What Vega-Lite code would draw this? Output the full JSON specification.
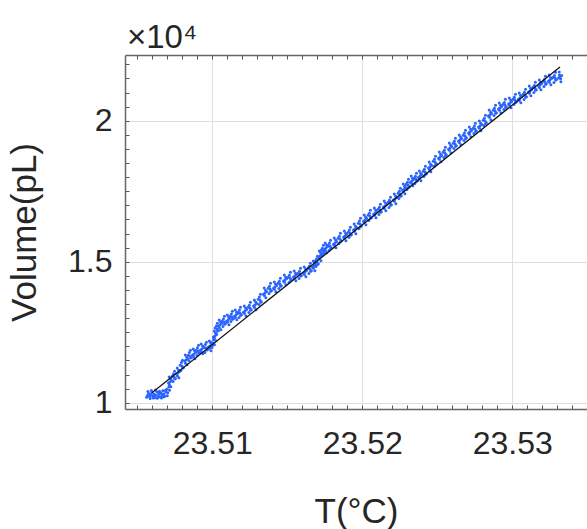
{
  "$schema": "https://vega.github.io/schema/vega-lite/v6.json",
  "autosize": "none",
  "width": 462,
  "height": 354,
  "padding": {"left": 125, "top": 55, "right": 0, "bottom": 120},
  "background": "white",
  "config": {"view": {"stroke": null}, "font": "Liberation Sans"},
  "title": {"text": "×10⁴", "anchor": "start", "frame": "group", "fontSize": 33, "fontWeight": "normal", "color": "#262626", "offset": 0, "dy": 7, "font": "Liberation Sans", "dx": 2},
  "datasets": {
    "fit": [{"T": 23.50598, "V": 10352}, {"T": 23.53318, "V": 21904}],
    "pts": [
      {"T": 23.50568, "V": 10260}, {"T": 23.50575, "V": 10330}, {"T": 23.50582, "V": 10210}, {"T": 23.5059, "V": 10290},
      {"T": 23.50597, "V": 10360}, {"T": 23.50603, "V": 10230}, {"T": 23.5061, "V": 10310}, {"T": 23.50617, "V": 10180},
      {"T": 23.50624, "V": 10270}, {"T": 23.5063, "V": 10390}, {"T": 23.50637, "V": 10220}, {"T": 23.50644, "V": 10300},
      {"T": 23.5065, "V": 10200}, {"T": 23.50657, "V": 10340}, {"T": 23.50664, "V": 10250}, {"T": 23.5067, "V": 10420},
      {"T": 23.50677, "V": 10310}, {"T": 23.50684, "V": 10230}, {"T": 23.5069, "V": 10380}, {"T": 23.50697, "V": 10480},
      {"T": 23.50703, "V": 10350}, {"T": 23.5071, "V": 10560}, {"T": 23.50715, "V": 10440},
      {"T": 23.50562, "V": 10190}, {"T": 23.50571, "V": 10400}, {"T": 23.50586, "V": 10150}, {"T": 23.50594, "V": 10430},
      {"T": 23.50606, "V": 10170}, {"T": 23.50621, "V": 10450}, {"T": 23.50633, "V": 10160}, {"T": 23.50648, "V": 10410},
      {"T": 23.50661, "V": 10170}, {"T": 23.50674, "V": 10200}, {"T": 23.50687, "V": 10440}, {"T": 23.507, "V": 10250},
      {"T": 23.50579, "V": 10280}, {"T": 23.50613, "V": 10260}, {"T": 23.50641, "V": 10360}, {"T": 23.50667, "V": 10300},
      {"T": 23.50718, "V": 10735}, {"T": 23.50722, "V": 10840}, {"T": 23.50714, "V": 10640},
      {"T": 23.50745, "V": 10912}, {"T": 23.50749, "V": 10850}, {"T": 23.50741, "V": 11020},
      {"T": 23.50771, "V": 11054}, {"T": 23.50775, "V": 11160}, {"T": 23.50767, "V": 10950},
      {"T": 23.50798, "V": 11302}, {"T": 23.50802, "V": 11230}, {"T": 23.50794, "V": 11430},
      {"T": 23.50825, "V": 11515}, {"T": 23.50829, "V": 11620}, {"T": 23.50821, "V": 11400},
      {"T": 23.50851, "V": 11657}, {"T": 23.50855, "V": 11590}, {"T": 23.50847, "V": 11780},
      {"T": 23.50878, "V": 11728}, {"T": 23.50882, "V": 11840}, {"T": 23.50874, "V": 11640},
      {"T": 23.50905, "V": 11834}, {"T": 23.50909, "V": 11760}, {"T": 23.50901, "V": 11950},
      {"T": 23.50931, "V": 11905}, {"T": 23.50935, "V": 12010}, {"T": 23.50927, "V": 11800},
      {"T": 23.50958, "V": 11941}, {"T": 23.50962, "V": 11870}, {"T": 23.50954, "V": 12060},
      {"T": 23.50985, "V": 12012}, {"T": 23.50989, "V": 12120}, {"T": 23.50981, "V": 11920},
      {"T": 23.51005, "V": 12118}, {"T": 23.51009, "V": 12230}, {"T": 23.51001, "V": 12040},
      {"T": 23.51018, "V": 12367}, {"T": 23.51022, "V": 12480}, {"T": 23.51014, "V": 12290},
      {"T": 23.51031, "V": 12615}, {"T": 23.51035, "V": 12540}, {"T": 23.51027, "V": 12720},
      {"T": 23.51051, "V": 12757}, {"T": 23.51055, "V": 12860}, {"T": 23.51047, "V": 12660},
      {"T": 23.51078, "V": 12862}, {"T": 23.51082, "V": 12780}, {"T": 23.51074, "V": 12970},
      {"T": 23.51105, "V": 12933}, {"T": 23.51109, "V": 13040}, {"T": 23.51101, "V": 12850},
      {"T": 23.51131, "V": 13040}, {"T": 23.51135, "V": 12960}, {"T": 23.51127, "V": 13150},
      {"T": 23.51158, "V": 13110}, {"T": 23.51162, "V": 13210}, {"T": 23.51154, "V": 13020},
      {"T": 23.51185, "V": 13181}, {"T": 23.51189, "V": 13100}, {"T": 23.51181, "V": 13290},
      {"T": 23.51218, "V": 13252}, {"T": 23.51222, "V": 13360}, {"T": 23.51214, "V": 13170},
      {"T": 23.51251, "V": 13359}, {"T": 23.51255, "V": 13280}, {"T": 23.51247, "V": 13460},
      {"T": 23.51285, "V": 13465}, {"T": 23.51289, "V": 13570}, {"T": 23.51281, "V": 13380},
      {"T": 23.51318, "V": 13642}, {"T": 23.51322, "V": 13560}, {"T": 23.51314, "V": 13750},
      {"T": 23.51351, "V": 13890}, {"T": 23.51355, "V": 13990}, {"T": 23.51347, "V": 13800},
      {"T": 23.51385, "V": 14032}, {"T": 23.51389, "V": 13950}, {"T": 23.51381, "V": 14130},
      {"T": 23.51418, "V": 14103}, {"T": 23.51422, "V": 14210}, {"T": 23.51414, "V": 14020},
      {"T": 23.51451, "V": 14210}, {"T": 23.51455, "V": 14130}, {"T": 23.51447, "V": 14310},
      {"T": 23.51485, "V": 14352}, {"T": 23.51489, "V": 14450}, {"T": 23.51481, "V": 14270},
      {"T": 23.51518, "V": 14423}, {"T": 23.51522, "V": 14350}, {"T": 23.51514, "V": 14520},
      {"T": 23.51551, "V": 14494}, {"T": 23.51555, "V": 14590}, {"T": 23.51547, "V": 14410},
      {"T": 23.51585, "V": 14564}, {"T": 23.51589, "V": 14490}, {"T": 23.51581, "V": 14660},
      {"T": 23.51618, "V": 14635}, {"T": 23.51622, "V": 14740}, {"T": 23.51614, "V": 14550},
      {"T": 23.51651, "V": 14742}, {"T": 23.51655, "V": 14660}, {"T": 23.51647, "V": 14840},
      {"T": 23.51678, "V": 14848}, {"T": 23.51682, "V": 14950}, {"T": 23.51674, "V": 14770},
      {"T": 23.51698, "V": 14990}, {"T": 23.51702, "V": 14900}, {"T": 23.51694, "V": 15100},
      {"T": 23.51718, "V": 15203}, {"T": 23.51722, "V": 15310}, {"T": 23.51714, "V": 15110},
      {"T": 23.51738, "V": 15380}, {"T": 23.51742, "V": 15300}, {"T": 23.51734, "V": 15480},
      {"T": 23.51758, "V": 15486}, {"T": 23.51762, "V": 15590}, {"T": 23.51754, "V": 15400},
      {"T": 23.51785, "V": 15557}, {"T": 23.51789, "V": 15480}, {"T": 23.51781, "V": 15660},
      {"T": 23.51818, "V": 15663}, {"T": 23.51822, "V": 15770}, {"T": 23.51814, "V": 15580},
      {"T": 23.51851, "V": 15805}, {"T": 23.51855, "V": 15720}, {"T": 23.51847, "V": 15900},
      {"T": 23.51885, "V": 15912}, {"T": 23.51889, "V": 16010}, {"T": 23.51881, "V": 15830},
      {"T": 23.51918, "V": 16018}, {"T": 23.51922, "V": 15940}, {"T": 23.51914, "V": 16120},
      {"T": 23.51951, "V": 16160}, {"T": 23.51955, "V": 16260}, {"T": 23.51947, "V": 16080},
      {"T": 23.51985, "V": 16337}, {"T": 23.51989, "V": 16250}, {"T": 23.51981, "V": 16440},
      {"T": 23.52018, "V": 16479}, {"T": 23.52022, "V": 16580}, {"T": 23.52014, "V": 16400},
      {"T": 23.52051, "V": 16621}, {"T": 23.52055, "V": 16540}, {"T": 23.52047, "V": 16720},
      {"T": 23.52085, "V": 16727}, {"T": 23.52089, "V": 16830}, {"T": 23.52081, "V": 16650},
      {"T": 23.52118, "V": 16834}, {"T": 23.52122, "V": 16750}, {"T": 23.52114, "V": 16930},
      {"T": 23.52151, "V": 16976}, {"T": 23.52155, "V": 17080}, {"T": 23.52147, "V": 16890},
      {"T": 23.52185, "V": 17082}, {"T": 23.52189, "V": 17000}, {"T": 23.52181, "V": 17180},
      {"T": 23.52218, "V": 17224}, {"T": 23.52222, "V": 17330}, {"T": 23.52214, "V": 17140},
      {"T": 23.52251, "V": 17401}, {"T": 23.52255, "V": 17320}, {"T": 23.52247, "V": 17500},
      {"T": 23.52278, "V": 17578}, {"T": 23.52282, "V": 17680}, {"T": 23.52274, "V": 17490},
      {"T": 23.52305, "V": 17720}, {"T": 23.52309, "V": 17640}, {"T": 23.52301, "V": 17820},
      {"T": 23.52331, "V": 17862}, {"T": 23.52335, "V": 17960}, {"T": 23.52327, "V": 17780},
      {"T": 23.52358, "V": 17933}, {"T": 23.52362, "V": 17850}, {"T": 23.52354, "V": 18030},
      {"T": 23.52385, "V": 18039}, {"T": 23.52389, "V": 18140}, {"T": 23.52381, "V": 17960},
      {"T": 23.52418, "V": 18181}, {"T": 23.52422, "V": 18100}, {"T": 23.52414, "V": 18280},
      {"T": 23.52451, "V": 18359}, {"T": 23.52455, "V": 18460}, {"T": 23.52447, "V": 18270},
      {"T": 23.52485, "V": 18536}, {"T": 23.52489, "V": 18450}, {"T": 23.52481, "V": 18630},
      {"T": 23.52518, "V": 18713}, {"T": 23.52522, "V": 18810}, {"T": 23.52514, "V": 18630},
      {"T": 23.52551, "V": 18855}, {"T": 23.52555, "V": 18770}, {"T": 23.52547, "V": 18950},
      {"T": 23.52585, "V": 19032}, {"T": 23.52589, "V": 19130}, {"T": 23.52581, "V": 18950},
      {"T": 23.52618, "V": 19174}, {"T": 23.52622, "V": 19090}, {"T": 23.52614, "V": 19270},
      {"T": 23.52651, "V": 19316}, {"T": 23.52655, "V": 19420}, {"T": 23.52647, "V": 19230},
      {"T": 23.52685, "V": 19458}, {"T": 23.52689, "V": 19370}, {"T": 23.52681, "V": 19560},
      {"T": 23.52718, "V": 19600}, {"T": 23.52722, "V": 19700}, {"T": 23.52714, "V": 19520},
      {"T": 23.52751, "V": 19706}, {"T": 23.52755, "V": 19620}, {"T": 23.52747, "V": 19810},
      {"T": 23.52785, "V": 19813}, {"T": 23.52789, "V": 19910}, {"T": 23.52781, "V": 19730},
      {"T": 23.52818, "V": 19990}, {"T": 23.52822, "V": 19900}, {"T": 23.52814, "V": 20090},
      {"T": 23.52851, "V": 20203}, {"T": 23.52855, "V": 20300}, {"T": 23.52847, "V": 20120},
      {"T": 23.52885, "V": 20345}, {"T": 23.52889, "V": 20260}, {"T": 23.52881, "V": 20440},
      {"T": 23.52918, "V": 20451}, {"T": 23.52922, "V": 20550}, {"T": 23.52914, "V": 20370},
      {"T": 23.52951, "V": 20558}, {"T": 23.52955, "V": 20470}, {"T": 23.52947, "V": 20650},
      {"T": 23.52985, "V": 20629}, {"T": 23.52989, "V": 20730}, {"T": 23.52981, "V": 20550},
      {"T": 23.53018, "V": 20734}, {"T": 23.53022, "V": 20650}, {"T": 23.53014, "V": 20830},
      {"T": 23.53051, "V": 20805}, {"T": 23.53055, "V": 20900}, {"T": 23.53047, "V": 20720},
      {"T": 23.53085, "V": 20912}, {"T": 23.53089, "V": 20830}, {"T": 23.53081, "V": 21010},
      {"T": 23.53118, "V": 21054}, {"T": 23.53122, "V": 21150}, {"T": 23.53114, "V": 20970},
      {"T": 23.53151, "V": 21160}, {"T": 23.53155, "V": 21080}, {"T": 23.53147, "V": 21250},
      {"T": 23.53185, "V": 21267}, {"T": 23.53189, "V": 21360}, {"T": 23.53181, "V": 21180},
      {"T": 23.53218, "V": 21373}, {"T": 23.53222, "V": 21290}, {"T": 23.53214, "V": 21460},
      {"T": 23.53251, "V": 21444}, {"T": 23.53255, "V": 21530}, {"T": 23.53247, "V": 21360},
      {"T": 23.53285, "V": 21515}, {"T": 23.53289, "V": 21440}, {"T": 23.53281, "V": 21600},
      {"T": 23.53318, "V": 21550}, {"T": 23.53322, "V": 21490}, {"T": 23.53314, "V": 21620},
      {"T": 23.50729, "V": 10785}, {"T": 23.50708, "V": 10695}, {"T": 23.50724, "V": 10565}, {"T": 23.50713, "V": 10915},
      {"T": 23.50754, "V": 10852}, {"T": 23.50733, "V": 10942}, {"T": 23.50748, "V": 11112}, {"T": 23.50738, "V": 10752},
      {"T": 23.50782, "V": 11104}, {"T": 23.50761, "V": 11014}, {"T": 23.50777, "V": 10884}, {"T": 23.50766, "V": 11234},
      {"T": 23.50807, "V": 11242}, {"T": 23.50786, "V": 11332}, {"T": 23.50801, "V": 11502}, {"T": 23.50791, "V": 11142},
      {"T": 23.50836, "V": 11565}, {"T": 23.50815, "V": 11475}, {"T": 23.50831, "V": 11345}, {"T": 23.5082, "V": 11695},
      {"T": 23.5086, "V": 11597}, {"T": 23.50839, "V": 11687}, {"T": 23.50854, "V": 11857}, {"T": 23.50844, "V": 11497},
      {"T": 23.50889, "V": 11778}, {"T": 23.50868, "V": 11688}, {"T": 23.50884, "V": 11558}, {"T": 23.50873, "V": 11908},
      {"T": 23.50914, "V": 11774}, {"T": 23.50893, "V": 11864}, {"T": 23.50908, "V": 12034}, {"T": 23.50898, "V": 11674},
      {"T": 23.50942, "V": 11955}, {"T": 23.50921, "V": 11865}, {"T": 23.50937, "V": 11735}, {"T": 23.50926, "V": 12085},
      {"T": 23.50967, "V": 11881}, {"T": 23.50946, "V": 11971}, {"T": 23.50961, "V": 12141}, {"T": 23.50951, "V": 11781},
      {"T": 23.50996, "V": 12062}, {"T": 23.50975, "V": 11972}, {"T": 23.50991, "V": 11842}, {"T": 23.5098, "V": 12192},
      {"T": 23.51014, "V": 12058}, {"T": 23.50993, "V": 12148}, {"T": 23.51008, "V": 12318}, {"T": 23.50998, "V": 11958},
      {"T": 23.51029, "V": 12417}, {"T": 23.51008, "V": 12327}, {"T": 23.51024, "V": 12197}, {"T": 23.51013, "V": 12547},
      {"T": 23.5104, "V": 12555}, {"T": 23.51019, "V": 12645}, {"T": 23.51034, "V": 12815}, {"T": 23.51024, "V": 12455},
      {"T": 23.51062, "V": 12807}, {"T": 23.51041, "V": 12717}, {"T": 23.51057, "V": 12587}, {"T": 23.51046, "V": 12937},
      {"T": 23.51087, "V": 12802}, {"T": 23.51066, "V": 12892}, {"T": 23.51081, "V": 13062}, {"T": 23.51071, "V": 12702},
      {"T": 23.51116, "V": 12983}, {"T": 23.51095, "V": 12893}, {"T": 23.51111, "V": 12763}, {"T": 23.511, "V": 13113},
      {"T": 23.5114, "V": 12980}, {"T": 23.51119, "V": 13070}, {"T": 23.51134, "V": 13240}, {"T": 23.51124, "V": 12880},
      {"T": 23.51169, "V": 13160}, {"T": 23.51148, "V": 13070}, {"T": 23.51164, "V": 12940}, {"T": 23.51153, "V": 13290},
      {"T": 23.51194, "V": 13121}, {"T": 23.51173, "V": 13211}, {"T": 23.51188, "V": 13381}, {"T": 23.51178, "V": 13021},
      {"T": 23.51229, "V": 13302}, {"T": 23.51208, "V": 13212}, {"T": 23.51224, "V": 13082}, {"T": 23.51213, "V": 13432},
      {"T": 23.5126, "V": 13299}, {"T": 23.51239, "V": 13389}, {"T": 23.51254, "V": 13559}, {"T": 23.51244, "V": 13199},
      {"T": 23.51296, "V": 13515}, {"T": 23.51275, "V": 13425}, {"T": 23.51291, "V": 13295}, {"T": 23.5128, "V": 13645},
      {"T": 23.51327, "V": 13582}, {"T": 23.51306, "V": 13672}, {"T": 23.51321, "V": 13842}, {"T": 23.51311, "V": 13482},
      {"T": 23.51362, "V": 13940}, {"T": 23.51341, "V": 13850}, {"T": 23.51357, "V": 13720}, {"T": 23.51346, "V": 14070},
      {"T": 23.51394, "V": 13972}, {"T": 23.51373, "V": 14062}, {"T": 23.51388, "V": 14232}, {"T": 23.51378, "V": 13872},
      {"T": 23.51429, "V": 14153}, {"T": 23.51408, "V": 14063}, {"T": 23.51424, "V": 13933}, {"T": 23.51413, "V": 14283},
      {"T": 23.5146, "V": 14150}, {"T": 23.51439, "V": 14240}, {"T": 23.51454, "V": 14410}, {"T": 23.51444, "V": 14050},
      {"T": 23.51496, "V": 14402}, {"T": 23.51475, "V": 14312}, {"T": 23.51491, "V": 14182}, {"T": 23.5148, "V": 14532},
      {"T": 23.51527, "V": 14363}, {"T": 23.51506, "V": 14453}, {"T": 23.51521, "V": 14623}, {"T": 23.51511, "V": 14263},
      {"T": 23.51562, "V": 14544}, {"T": 23.51541, "V": 14454}, {"T": 23.51557, "V": 14324}, {"T": 23.51546, "V": 14674},
      {"T": 23.51594, "V": 14504}, {"T": 23.51573, "V": 14594}, {"T": 23.51588, "V": 14764}, {"T": 23.51578, "V": 14404},
      {"T": 23.51629, "V": 14685}, {"T": 23.51608, "V": 14595}, {"T": 23.51624, "V": 14465}, {"T": 23.51613, "V": 14815},
      {"T": 23.5166, "V": 14682}, {"T": 23.51639, "V": 14772}, {"T": 23.51654, "V": 14942}, {"T": 23.51644, "V": 14582},
      {"T": 23.51689, "V": 14898}, {"T": 23.51668, "V": 14808}, {"T": 23.51684, "V": 14678}, {"T": 23.51673, "V": 15028},
      {"T": 23.51707, "V": 14930}, {"T": 23.51686, "V": 15020}, {"T": 23.51701, "V": 15190}, {"T": 23.51691, "V": 14830},
      {"T": 23.51729, "V": 15253}, {"T": 23.51708, "V": 15163}, {"T": 23.51724, "V": 15033}, {"T": 23.51713, "V": 15383},
      {"T": 23.51747, "V": 15320}, {"T": 23.51726, "V": 15410}, {"T": 23.51741, "V": 15580}, {"T": 23.51731, "V": 15220},
      {"T": 23.51769, "V": 15536}, {"T": 23.51748, "V": 15446}, {"T": 23.51764, "V": 15316}, {"T": 23.51753, "V": 15666},
      {"T": 23.51794, "V": 15497}, {"T": 23.51773, "V": 15587}, {"T": 23.51788, "V": 15757}, {"T": 23.51778, "V": 15397},
      {"T": 23.51829, "V": 15713}, {"T": 23.51808, "V": 15623}, {"T": 23.51824, "V": 15493}, {"T": 23.51813, "V": 15843},
      {"T": 23.5186, "V": 15745}, {"T": 23.51839, "V": 15835}, {"T": 23.51854, "V": 16005}, {"T": 23.51844, "V": 15645},
      {"T": 23.51896, "V": 15962}, {"T": 23.51875, "V": 15872}, {"T": 23.51891, "V": 15742}, {"T": 23.5188, "V": 16092},
      {"T": 23.51927, "V": 15958}, {"T": 23.51906, "V": 16048}, {"T": 23.51921, "V": 16218}, {"T": 23.51911, "V": 15858},
      {"T": 23.51962, "V": 16210}, {"T": 23.51941, "V": 16120}, {"T": 23.51957, "V": 15990}, {"T": 23.51946, "V": 16340},
      {"T": 23.51994, "V": 16277}, {"T": 23.51973, "V": 16367}, {"T": 23.51988, "V": 16537}, {"T": 23.51978, "V": 16177},
      {"T": 23.52029, "V": 16529}, {"T": 23.52008, "V": 16439}, {"T": 23.52024, "V": 16309}, {"T": 23.52013, "V": 16659},
      {"T": 23.5206, "V": 16561}, {"T": 23.52039, "V": 16651}, {"T": 23.52054, "V": 16821}, {"T": 23.52044, "V": 16461},
      {"T": 23.52096, "V": 16777}, {"T": 23.52075, "V": 16687}, {"T": 23.52091, "V": 16557}, {"T": 23.5208, "V": 16907},
      {"T": 23.52127, "V": 16774}, {"T": 23.52106, "V": 16864}, {"T": 23.52121, "V": 17034}, {"T": 23.52111, "V": 16674},
      {"T": 23.52162, "V": 17026}, {"T": 23.52141, "V": 16936}, {"T": 23.52157, "V": 16806}, {"T": 23.52146, "V": 17156},
      {"T": 23.52194, "V": 17022}, {"T": 23.52173, "V": 17112}, {"T": 23.52188, "V": 17282}, {"T": 23.52178, "V": 16922},
      {"T": 23.52229, "V": 17274}, {"T": 23.52208, "V": 17184}, {"T": 23.52224, "V": 17054}, {"T": 23.52213, "V": 17404},
      {"T": 23.5226, "V": 17341}, {"T": 23.52239, "V": 17431}, {"T": 23.52254, "V": 17601}, {"T": 23.52244, "V": 17241},
      {"T": 23.52289, "V": 17628}, {"T": 23.52268, "V": 17538}, {"T": 23.52284, "V": 17408}, {"T": 23.52273, "V": 17758},
      {"T": 23.52314, "V": 17660}, {"T": 23.52293, "V": 17750}, {"T": 23.52308, "V": 17920}, {"T": 23.52298, "V": 17560},
      {"T": 23.52342, "V": 17912}, {"T": 23.52321, "V": 17822}, {"T": 23.52337, "V": 17692}, {"T": 23.52326, "V": 18042},
      {"T": 23.52367, "V": 17873}, {"T": 23.52346, "V": 17963}, {"T": 23.52361, "V": 18133}, {"T": 23.52351, "V": 17773},
      {"T": 23.52396, "V": 18089}, {"T": 23.52375, "V": 17999}, {"T": 23.52391, "V": 17869}, {"T": 23.5238, "V": 18219},
      {"T": 23.52427, "V": 18121}, {"T": 23.52406, "V": 18211}, {"T": 23.52421, "V": 18381}, {"T": 23.52411, "V": 18021},
      {"T": 23.52462, "V": 18409}, {"T": 23.52441, "V": 18319}, {"T": 23.52457, "V": 18189}, {"T": 23.52446, "V": 18539},
      {"T": 23.52494, "V": 18476}, {"T": 23.52473, "V": 18566}, {"T": 23.52488, "V": 18736}, {"T": 23.52478, "V": 18376},
      {"T": 23.52529, "V": 18763}, {"T": 23.52508, "V": 18673}, {"T": 23.52524, "V": 18543}, {"T": 23.52513, "V": 18893},
      {"T": 23.5256, "V": 18795}, {"T": 23.52539, "V": 18885}, {"T": 23.52554, "V": 19055}, {"T": 23.52544, "V": 18695},
      {"T": 23.52596, "V": 19082}, {"T": 23.52575, "V": 18992}, {"T": 23.52591, "V": 18862}, {"T": 23.5258, "V": 19212},
      {"T": 23.52627, "V": 19114}, {"T": 23.52606, "V": 19204}, {"T": 23.52621, "V": 19374}, {"T": 23.52611, "V": 19014},
      {"T": 23.52662, "V": 19366}, {"T": 23.52641, "V": 19276}, {"T": 23.52657, "V": 19146}, {"T": 23.52646, "V": 19496},
      {"T": 23.52694, "V": 19398}, {"T": 23.52673, "V": 19488}, {"T": 23.52688, "V": 19658}, {"T": 23.52678, "V": 19298},
      {"T": 23.52729, "V": 19650}, {"T": 23.52708, "V": 19560}, {"T": 23.52724, "V": 19430}, {"T": 23.52713, "V": 19780},
      {"T": 23.5276, "V": 19646}, {"T": 23.52739, "V": 19736}, {"T": 23.52754, "V": 19906}, {"T": 23.52744, "V": 19546},
      {"T": 23.52796, "V": 19863}, {"T": 23.52775, "V": 19773}, {"T": 23.52791, "V": 19643}, {"T": 23.5278, "V": 19993},
      {"T": 23.52827, "V": 19930}, {"T": 23.52806, "V": 20020}, {"T": 23.52821, "V": 20190}, {"T": 23.52811, "V": 19830},
      {"T": 23.52862, "V": 20253}, {"T": 23.52841, "V": 20163}, {"T": 23.52857, "V": 20033}, {"T": 23.52846, "V": 20383},
      {"T": 23.52894, "V": 20285}, {"T": 23.52873, "V": 20375}, {"T": 23.52888, "V": 20545}, {"T": 23.52878, "V": 20185},
      {"T": 23.52929, "V": 20501}, {"T": 23.52908, "V": 20411}, {"T": 23.52924, "V": 20281}, {"T": 23.52913, "V": 20631},
      {"T": 23.5296, "V": 20498}, {"T": 23.52939, "V": 20588}, {"T": 23.52954, "V": 20758}, {"T": 23.52944, "V": 20398},
      {"T": 23.52996, "V": 20679}, {"T": 23.52975, "V": 20589}, {"T": 23.52991, "V": 20459}, {"T": 23.5298, "V": 20809},
      {"T": 23.53027, "V": 20674}, {"T": 23.53006, "V": 20764}, {"T": 23.53021, "V": 20934}, {"T": 23.53011, "V": 20574},
      {"T": 23.53062, "V": 20855}, {"T": 23.53041, "V": 20765}, {"T": 23.53057, "V": 20635}, {"T": 23.53046, "V": 20985},
      {"T": 23.53094, "V": 20852}, {"T": 23.53073, "V": 20942}, {"T": 23.53088, "V": 21112}, {"T": 23.53078, "V": 20752},
      {"T": 23.53129, "V": 21104}, {"T": 23.53108, "V": 21014}, {"T": 23.53124, "V": 20884}, {"T": 23.53113, "V": 21234},
      {"T": 23.5316, "V": 21100}, {"T": 23.53139, "V": 21190}, {"T": 23.53154, "V": 21360}, {"T": 23.53144, "V": 21000},
      {"T": 23.53196, "V": 21317}, {"T": 23.53175, "V": 21227}, {"T": 23.53191, "V": 21097}, {"T": 23.5318, "V": 21447},
      {"T": 23.53227, "V": 21313}, {"T": 23.53206, "V": 21403}, {"T": 23.53221, "V": 21573}, {"T": 23.53211, "V": 21213},
      {"T": 23.53262, "V": 21494}, {"T": 23.53241, "V": 21404}, {"T": 23.53257, "V": 21274}, {"T": 23.53246, "V": 21624},
      {"T": 23.53294, "V": 21455}, {"T": 23.53273, "V": 21545}, {"T": 23.53288, "V": 21715}, {"T": 23.53278, "V": 21355},
      {"T": 23.53329, "V": 21600}, {"T": 23.53308, "V": 21510}, {"T": 23.53324, "V": 21380}, {"T": 23.53313, "V": 21730}
    ]
  },
  "layer": [
    {
      "data": {"name": "pts"},
      "mark": {"type": "circle", "size": 9, "opacity": 1, "color": "#2a64ff"},
      "encoding": {
        "x": {
          "field": "T", "type": "quantitative",
          "scale": {"domain": [23.50418, 23.53498], "nice": false, "zero": false},
          "axis": {
            "orient": "bottom",
            "title": "T(°C)",
            "titleFontSize": 35, "titleFontWeight": "normal", "titleColor": "#262626", "titleFont": "Liberation Sans", "titlePadding": 35,
            "values": [23.505, 23.506, 23.507, 23.508, 23.509, 23.51, 23.511, 23.512, 23.513, 23.514, 23.515, 23.516, 23.517, 23.518, 23.519, 23.52, 23.521, 23.522, 23.523, 23.524, 23.525, 23.526, 23.527, 23.528, 23.529, 23.53, 23.531, 23.532, 23.533, 23.534],
            "labelExpr": "abs(datum.value*100 - round(datum.value*100)) < 0.001 ? format(datum.value, '.2f') : ''",
            "labelFontSize": 32, "labelColor": "#262626", "labelFont": "Liberation Sans", "labelPadding": 23,
            "labelOverlap": false, "labelFlush": false,
            "tickSize": -4, "tickColor": "#555555", "tickWidth": 1,
            "domainColor": "#666666", "domainWidth": 1.5,
            "grid": true, "gridColor": "#dedede", "gridWidth": 1,
            "gridOpacity": {"condition": {"test": "abs(datum.value*100 - round(datum.value*100)) < 0.001", "value": 1}, "value": 0}
          }
        },
        "y": {
          "field": "V", "type": "quantitative",
          "scale": {"domain": [9777, 22330], "nice": false, "zero": false},
          "axis": {
            "orient": "left",
            "title": "Volume(pL)",
            "titleFontSize": 35, "titleFontWeight": "normal", "titleColor": "#262626", "titleFont": "Liberation Sans", "titlePadding": 25,
            "values": [10000, 10500, 11000, 11500, 12000, 12500, 13000, 13500, 14000, 14500, 15000, 15500, 16000, 16500, 17000, 17500, 18000, 18500, 19000, 19500, 20000, 20500, 21000, 21500, 22000],
            "labelExpr": "datum.value % 5000 == 0 ? '' + (datum.value/10000) : ''",
            "labelFontSize": 32, "labelColor": "#262626", "labelFont": "Liberation Sans", "labelPadding": 17,
            "labelOverlap": false, "labelFlush": false,
            "tickSize": -4, "tickColor": "#555555", "tickWidth": 1,
            "domainColor": "#666666", "domainWidth": 1.5,
            "grid": true, "gridColor": "#dedede", "gridWidth": 1,
            "gridOpacity": {"condition": {"test": "datum.value % 5000 == 0", "value": 1}, "value": 0}
          }
        }
      }
    },
    {
      "data": {"name": "fit"},
      "mark": {"type": "line", "color": "#111111", "strokeWidth": 1.3},
      "encoding": {
        "x": {
          "field": "T", "type": "quantitative",
          "scale": {"domain": [23.50418, 23.53498], "nice": false, "zero": false},
          "axis": {
            "orient": "top", "title": null, "labels": false, "grid": false,
            "values": [23.505, 23.506, 23.507, 23.508, 23.509, 23.51, 23.511, 23.512, 23.513, 23.514, 23.515, 23.516, 23.517, 23.518, 23.519, 23.52, 23.521, 23.522, 23.523, 23.524, 23.525, 23.526, 23.527, 23.528, 23.529, 23.53, 23.531, 23.532, 23.533, 23.534],
            "tickSize": -4, "tickColor": "#555555", "tickWidth": 1,
            "domainColor": "#666666", "domainWidth": 1.5
          }
        },
        "y": {
          "field": "V", "type": "quantitative",
          "scale": {"domain": [9777, 22330], "nice": false, "zero": false},
          "axis": null
        }
      }
    }
  ],
  "resolve": {"axis": {"x": "independent", "y": "independent"}}
}
